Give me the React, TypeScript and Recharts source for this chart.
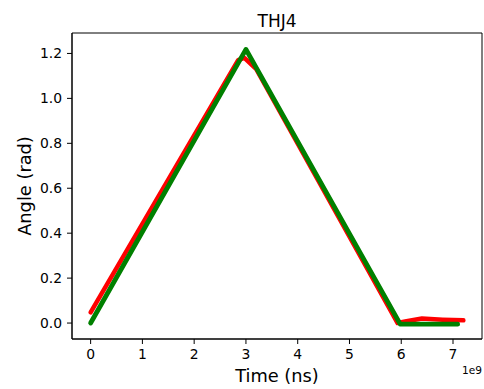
import React from 'react';
import { LineChart, Line, XAxis, YAxis, ReferenceArea } from 'recharts';

// Joint angle trajectories for THJ4 (time in ns, angle in rad)
const redTime = [0, 2.85e9, 2.97e9, 3.2e9, 5.93e9, 6.1e9, 6.4e9, 6.8e9, 7.2e9];
const redAngle = [0.048, 1.17, 1.18, 1.13, 0.0, 0.008, 0.02, 0.015, 0.012];

const greenTime = [0, 3.0e9, 5.98e9, 7.09e9];
const greenAngle = [0.0, 1.218, -0.005, -0.005];

const xTicks = [0, 1e9, 2e9, 3e9, 4e9, 5e9, 6e9, 7e9];
const yTicks = [0, 0.2, 0.4, 0.6, 0.8, 1.0, 1.2];

const xDomain: [number, number] = [-0.36e9, 7.56e9];
const yDomain: [number, number] = [-0.071, 1.291];

const redData = redTime.map((t, i) => ({ t, v: redAngle[i] }));
const greenData = greenTime.map((t, i) => ({ t, v: greenAngle[i] }));

const FONT = 'DejaVu Sans';
const W = 484;
const H = 389;

export default function App() {
  const tickStyle = { fontSize: 13.9, fill: '#000', fontFamily: FONT };
  return (
    <div style={{ position: 'absolute', left: 0, top: 0, width: W, height: H, background: '#fff' }}>
      <LineChart width={W} height={H} margin={{ top: 33, right: 2, bottom: 0, left: 0 }}>
        <XAxis
          dataKey="t"
          type="number"
          domain={xDomain}
          allowDataOverflow
          ticks={xTicks}
          tickFormatter={(v: number) => String(Math.round(v / 1e9))}
          height={50}
          stroke="#000"
          tickSize={5}
          tickMargin={5}
          tick={tickStyle}
        />
        <YAxis
          dataKey="v"
          type="number"
          domain={yDomain}
          allowDataOverflow
          ticks={yTicks}
          tickFormatter={(v: number) => v.toFixed(1)}
          width={72}
          stroke="#000"
          tickSize={5}
          tickMargin={5}
          tick={tickStyle}
        />
        <ReferenceArea
          x1={xDomain[0]}
          x2={xDomain[1]}
          y1={yDomain[0]}
          y2={yDomain[1]}
          fill="none"
          stroke="#000"
          strokeWidth={1}
          fillOpacity={0}
        />
        <Line
          data={redData}
          dataKey="v"
          type="linear"
          stroke="#ff0000"
          strokeWidth={4.5}
          strokeLinecap="round"
          strokeLinejoin="round"
          dot={false}
          isAnimationActive={false}
        />
        <Line
          data={greenData}
          dataKey="v"
          type="linear"
          stroke="#008000"
          strokeWidth={4.8}
          strokeLinecap="round"
          strokeLinejoin="round"
          dot={false}
          isAnimationActive={false}
        />
      </LineChart>
      <svg
        width={W}
        height={H}
        style={{ position: 'absolute', left: 0, top: 0, pointerEvents: 'none' }}
        fontFamily={FONT}
      >
        <text x={277} y={26.5} textAnchor="middle" fontSize={17} fill="#000">THJ4</text>
        <text x={277} y={382} textAnchor="middle" fontSize={17.8} fill="#000">Time (ns)</text>
        <text
          transform="translate(30.5,186) rotate(-90)"
          textAnchor="middle"
          fontSize={17.8}
          fill="#000"
        >
          Angle (rad)
        </text>
        <text x={482} y={374} textAnchor="end" fontSize={10.6} fill="#000">1e9</text>
      </svg>
    </div>
  );
}
